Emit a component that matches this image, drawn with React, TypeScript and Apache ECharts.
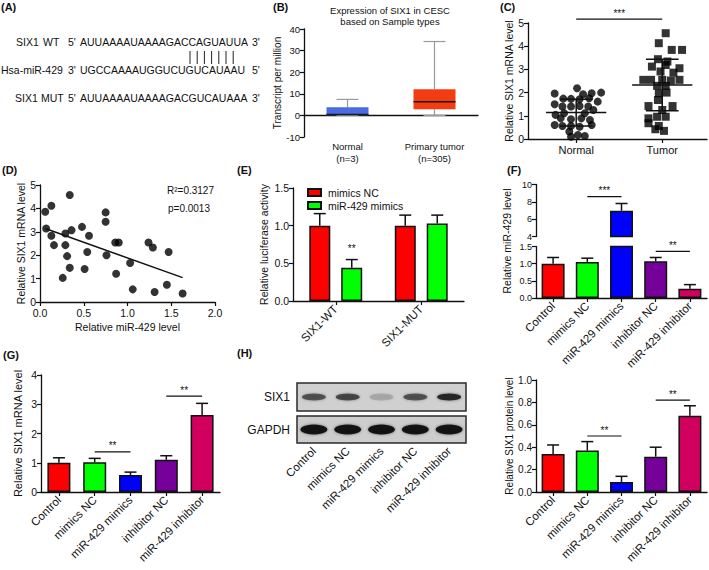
import React, { useEffect, useRef } from 'react';
import * as echarts from 'echarts';

const FONT = 'Arial, "Liberation Sans", Helvetica, sans-serif';
const INK = '#111';

// ---------- Panel A (sequences) ----------
const seqWT = 'AUUAAAAUAAAAGACCAGUAUUA';
const seqMiR = 'UGCCAAAAUGGUCUGUCAUAAU';
const seqMUT = 'AUUAAAAUAAAAGACGUCAUAAA';
const pairCount = 7;

// ---------- Panel B (box plot) ----------
const bCategories = ['Normal\n(n=3)', 'Primary tumor\n(n=305)'];
// min, q1, median, q3, max
const bNormal = [0, 0.1, 0.4, 3.8, 7.4];
const bTumor = [0, 2.8, 6.3, 12.1, 34.2];
const bColors = ['#4a6be2', '#f43c12'];

// ---------- Panel C (dot plot) ----------
const cCategories = ['Normal', 'Tumor'];
// [jitter, value]
const cNormal = [
  [-0.25, 1.96], [-0.15, 1.74], [0.01, 2.19], [0.08, 1.93], [0.18, 1.97], [0.29, 2.0],
  [-0.06, 1.73], [0.04, 1.71], [0.15, 1.76], [0.25, 1.61], [-0.25, 1.5], [-0.16, 1.4],
  [-0.06, 1.4], [0.04, 1.42], [0.14, 1.4], [-0.24, 1.04], [-0.14, 1.11], [0.1, 1.11],
  [0.2, 1.25], [-0.18, 0.89], [-0.06, 0.85], [0.06, 0.89], [0.16, 0.82], [-0.25, 0.6],
  [-0.16, 0.56], [-0.06, 0.56], [0.04, 0.53], [0.18, 0.6], [-0.08, 0.32], [0.02, 0.17],
  [-0.06, 0.1], [0.1, 0.13],
];
const cTumor = [
  [0.04, 4.56], [-0.04, 4.13], [0.11, 3.84], [0.23, 3.84], [-0.05, 3.44], [0.06, 3.34],
  [-0.12, 3.12], [0.04, 3.19], [0.2, 3.05], [-0.02, 2.91], [0.13, 2.86], [-0.22, 2.55],
  [-0.13, 2.55], [0.0, 2.55], [0.1, 2.52], [0.2, 2.55], [-0.06, 2.29], [0.04, 2.29],
  [-0.04, 1.97], [0.05, 2.0], [-0.05, 1.68], [-0.16, 1.42], [0.12, 1.42], [0.0, 1.25],
  [-0.06, 0.96], [-0.16, 0.89], [0.04, 0.96], [-0.04, 0.56], [-0.08, 0.42], [0.02, 0.35],
  [-0.16, 0.68],
];
// [category position, mean, sd]
const cMeanSd = [[1, 1.14, 0.575], [2, 2.33, 1.11]];

// ---------- Panel D (correlation) ----------
const dPoints = [
  [0.06, 3.86], [0.13, 4.11], [0.34, 4.57], [0.07, 3.14], [0.13, 2.83], [0.16, 2.43],
  [0.29, 2.93], [0.36, 3.07], [0.29, 2.43], [0.31, 1.96], [0.34, 1.46], [0.26, 1.03],
  [0.48, 3.21], [0.56, 2.83], [0.54, 2.14], [0.51, 1.41], [0.75, 3.83], [0.75, 3.43],
  [0.76, 2.0], [0.86, 2.54], [0.9, 2.54], [0.87, 1.21], [1.03, 1.67], [1.06, 0.54],
  [1.24, 2.54], [1.29, 2.33], [1.31, 0.43], [1.47, 2.14], [1.45, 0.74], [1.63, 0.36],
];
const dFit = [[0.06, 3.14], [1.63, 1.04]];
const dStats = ['R²=0.3127', 'p=0.0013'];

// ---------- Panel E (luciferase) ----------
const eCategories = ['SIX1-WT', 'SIX1-MUT'];
const eNC = [1.0, 1.0];
const eNCErr = [0.16, 0.14];
const eMim = [0.44, 1.03];
const eMimErr = [0.11, 0.11];

// ---------- Panels F, G, H (five groups) ----------
const groups = ['Control', 'mimics NC', 'miR-429 mimics', 'inhibitor NC', 'miR-429 inhibitor'];
const groupColors = ['#ff0000', '#00ff00', '#0000ff', '#76009a', '#d1005f'];
const fVals = [1.0, 1.05, 6.96, 1.07, 0.27];
const fErr = [0.18, 0.11, 0.85, 0.11, 0.12];
const gVals = [1.0, 1.02, 0.58, 1.1, 2.63];
const gErr = [0.17, 0.13, 0.1, 0.14, 0.4];
const hVals = [0.34, 0.37, 0.09, 0.315, 0.68];
const hErr = [0.08, 0.08, 0.05, 0.085, 0.09];
const blotSix1 = [0.62, 0.68, 0.18, 0.62, 0.92];
const blotGapdh = [0.95, 0.95, 0.95, 0.95, 0.95];

// significance annotations: [x1, x2, y, text]
const cSig = [[1, 2, 5.17, '***']];
const eSig = [[0, 0, 0.62, '**']];
const fSigUpper = [[1, 2, 8.6, '***']];
const fSigLower = [[3, 4, 1.36, '**']];
const gSig = [[1, 2, 1.37, '**'], [3, 4, 3.28, '**']];
const hSig = [[1, 2, 0.5, '**'], [3, 4, 0.82, '**']];

const axisLine = { show: true, lineStyle: { color: INK, width: 1.3 } };
const axisTick = { show: true, length: 4, lineStyle: { color: INK, width: 1.2 } };
const lbl = { color: INK, fontFamily: FONT, fontSize: 10.5, margin: 4 };
const nameStyle = { color: INK, fontFamily: FONT, fontSize: 10.5 };
const noSplit = { show: false };

function catX(grid: number, data: string[], extra: any = {}) {
  return {
    gridIndex: grid, type: 'category', data,
    axisLine, axisTick: { ...axisTick, alignWithLabel: true },
    axisLabel: { ...lbl, fontSize: 11.5, rotate: 45, interval: 0, margin: 6 },
    ...extra,
  };
}

function errSeries(idx: number, vals: number[], errs: number[], offset = 0, cap = 6) {
  return {
    type: 'custom', xAxisIndex: idx, yAxisIndex: idx, clip: true, z: 5, silent: true,
    data: vals.map((v, i) => [i, v, errs[i]]),
    renderItem: (params: any, api: any) => {
      const x = api.value(0), v = api.value(1), e = api.value(2);
      const p0 = api.coord([x, v]);
      const p1 = api.coord([x, v + e]);
      const cx = p0[0] + offset;
      const st = { stroke: INK, lineWidth: 1.5 };
      return {
        type: 'group', children: [
          { type: 'line', shape: { x1: cx, y1: p0[1], x2: cx, y2: p1[1] }, style: st },
          { type: 'line', shape: { x1: cx - cap, y1: p1[1], x2: cx + cap, y2: p1[1] }, style: st },
        ],
      };
    },
  };
}

function sigSeries(idx: number, items: any[], offset = 0) {
  return {
    type: 'custom', xAxisIndex: idx, yAxisIndex: idx, z: 6, silent: true,
    data: items.map((s) => [s[0], s[1], s[2]]),
    renderItem: (params: any, api: any) => {
      const s = items[params.dataIndex];
      const a = api.coord([api.value(0), api.value(2)]);
      const b = api.coord([api.value(1), api.value(2)]);
      const children: any[] = [];
      if (s[0] !== s[1]) {
        children.push({ type: 'line', shape: { x1: a[0], y1: a[1], x2: b[0], y2: b[1] }, style: { stroke: INK, lineWidth: 1.2 } });
      }
      children.push({
        type: 'text', x: (a[0] + b[0]) / 2 + offset, y: a[1] - 1,
        style: { text: s[3], fill: INK, fontFamily: FONT, fontSize: 10, textAlign: 'center', textVerticalAlign: 'bottom' },
      });
      return { type: 'group', children };
    },
  };
}

function groupBars(idx: number, vals: number[]) {
  return {
    type: 'bar', xAxisIndex: idx, yAxisIndex: idx, barWidth: 23, clip: true,
    data: vals.map((v, i) => ({ value: v, itemStyle: { color: groupColors[i] } })),
    itemStyle: { borderColor: INK, borderWidth: 1.5 },
  };
}

export default function App() {
  const ref = useRef<HTMLDivElement>(null);
  useEffect(() => {
    if (!ref.current) return;
    const chart = echarts.init(ref.current, undefined, { renderer: 'svg' });

    const t = (text: string, x: number, y: number, extra: any = {}) => ({
      type: 'text', x, y, silent: true,
      style: { text, fill: INK, fontFamily: FONT, fontSize: 10.5, textVerticalAlign: 'middle', ...extra },
    });

    const panelLabels = [
      ['(A)', 1, 7], ['(B)', 273, 7], ['(C)', 500, 7], ['(D)', 2, 170],
      ['(E)', 237, 170], ['(F)', 507, 170], ['(G)', 3, 355], ['(H)', 237, 353],
    ];

    const pairLines = Array.from({ length: pairCount }, (_, i) => ({
      type: 'line', silent: true,
      shape: { x1: 190 + 7.2 * i, y1: 51, x2: 190 + 7.2 * i, y2: 64 },
      style: { stroke: '#222', lineWidth: 1 },
    }));

    const graphic: any[] = [
      ...panelLabels.map(([s, x, y]) => t(s as string, x as number, y as number, { fontWeight: 'bold', fontSize: 11 })),
      t('SIX1', 16, 42), t('WT', 43, 42), t("5'", 68, 42), t(seqWT, 80, 42), t("3'", 252, 42),
      t('Hsa-miR-429', 1, 70), t("3'", 68, 70), t(seqMiR, 80, 70), t("5'", 252, 70),
      t('SIX1', 15, 98), t('MUT', 41, 98), t("5'", 68, 98), t(seqMUT, 80, 98), t("3'", 252, 98),
      ...pairLines,
      t('Expression of SIX1 in CESC', 390, 10, { textAlign: 'center', fontSize: 9.5 }),
      t('based on Sample types', 390, 21, { textAlign: 'center', fontSize: 9.5 }),
      t(dStats[0], 167, 190, { fontSize: 10 }),
      t(dStats[1], 168, 208, { fontSize: 10 }),
      {
        type: 'text', x: 507, y: 241, rotation: Math.PI / 2, silent: true,
        style: { text: 'Relative miR-429 level', fill: INK, fontFamily: FONT, fontSize: 10.5, textAlign: 'center', textVerticalAlign: 'middle' },
      },
    ];

    const fLbl = { ...lbl, fontSize: 9, lineHeight: 8 };

    const option: any = {
      animation: false,
      backgroundColor: '#fff',
      textStyle: { fontFamily: FONT },
      grid: [
        { left: 304, top: 29, width: 174, height: 108 },
        { left: 528, top: 23, width: 179, height: 116 },
        { left: 40, top: 185, width: 175, height: 117 },
        { left: 293, top: 188, width: 171, height: 113 },
        { left: 536, top: 184.5, width: 171, height: 52 },
        { left: 536, top: 246.5, width: 171, height: 51.5 },
        { left: 41, top: 375, width: 179, height: 117 },
        { left: 297, top: 383, width: 169, height: 28, show: true, backgroundColor: '#d0d0d0', borderColor: '#2a2a2a', borderWidth: 1.5 },
        { left: 297, top: 416, width: 169, height: 27, show: true, backgroundColor: '#cdcdcd', borderColor: '#2a2a2a', borderWidth: 1.5 },
        { left: 536, top: 380, width: 171, height: 112 },
      ],
      legend: {
        left: 302, top: 182, orient: 'vertical', itemWidth: 13, itemHeight: 7, itemGap: 2, icon: 'rect',
        data: ['mimics NC', 'miR-429 mimics'],
        textStyle: { color: INK, fontFamily: FONT, fontSize: 10.5, padding: [0, 0, 0, 2] },
      },
      xAxis: [
        {
          gridIndex: 0, type: 'category', data: bCategories, axisLine, axisTick: { show: false },
          axisLabel: { ...lbl, fontSize: 9.5, lineHeight: 11.5, margin: 4 },
        },
        {
          gridIndex: 1, type: 'value', min: 0.44, max: 2.52, splitLine: noSplit, axisLine,
          axisTick: { ...axisTick, customValues: [1, 2] },
          axisLabel: { ...lbl, fontSize: 11, margin: 5, customValues: [1, 2], formatter: (v: number) => cCategories[Math.round(v) - 1] },
        },
        {
          gridIndex: 2, type: 'value', min: 0, max: 2, interval: 0.5, splitLine: noSplit, axisLine, axisTick,
          axisLabel: { ...lbl, margin: 6, lineHeight: 10, formatter: (v: number) => v.toFixed(1) },
          name: 'Relative miR-429 level', nameLocation: 'middle', nameGap: 19, nameTextStyle: nameStyle,
        },
        catX(3, eCategories),
        { gridIndex: 4, type: 'category', data: groups, show: false },
        catX(5, groups),
        catX(6, groups),
        { gridIndex: 7, type: 'category', data: groups, show: false },
        catX(8, groups, { axisLine: { show: false }, axisTick: { show: false } }),
        catX(9, groups),
      ],
      yAxis: [
        {
          gridIndex: 0, type: 'value', min: -10, max: 40, interval: 10, axisLine, axisTick, splitLine: noSplit,
          axisLabel: { ...lbl, fontSize: 9.5 },
          name: 'Transcript per million', nameLocation: 'middle', nameGap: 20, nameTextStyle: { ...nameStyle, fontSize: 10 },
        },
        {
          gridIndex: 1, type: 'value', min: 0, max: 5, interval: 1, axisLine, axisTick, splitLine: noSplit, axisLabel: lbl,
          name: 'Relative SIX1 mRNA level', nameLocation: 'middle', nameGap: 14, nameTextStyle: nameStyle,
        },
        {
          gridIndex: 2, type: 'value', min: 0, max: 5, interval: 1, axisLine, axisTick, splitLine: noSplit,
          axisLabel: { ...lbl, lineHeight: 9 },
          name: 'Relative SIX1 mRNA level', nameLocation: 'middle', nameGap: 11, nameTextStyle: nameStyle,
        },
        {
          gridIndex: 3, type: 'value', min: 0, max: 1.5, interval: 0.5, axisLine, axisTick, splitLine: noSplit,
          axisLabel: { ...lbl, formatter: (v: number) => v.toFixed(1) },
          name: 'Relative luciferase activity', nameLocation: 'middle', nameGap: 24, nameTextStyle: nameStyle,
        },
        {
          gridIndex: 4, type: 'value', min: 4, max: 10, interval: 2, axisLine, axisTick, splitLine: noSplit, axisLabel: fLbl,
        },
        {
          gridIndex: 5, type: 'value', min: 0, max: 1.5, interval: 0.5, axisLine, axisTick, splitLine: noSplit,
          axisLabel: { ...fLbl, formatter: (v: number) => v.toFixed(1) },
        },
        {
          gridIndex: 6, type: 'value', min: 0, max: 4, interval: 1, axisLine, axisTick, splitLine: noSplit, axisLabel: lbl,
          name: 'Relative SIX1 mRNA level', nameLocation: 'middle', nameGap: 18, nameTextStyle: { ...nameStyle, fontSize: 11 },
        },
        {
          gridIndex: 7, type: 'category', data: ['SIX1'], axisLine: { show: false }, axisTick: { show: false },
          axisLabel: { ...lbl, fontSize: 12, margin: 7 },
        },
        {
          gridIndex: 8, type: 'category', data: ['GAPDH'], axisLine: { show: false }, axisTick: { show: false },
          axisLabel: { ...lbl, fontSize: 12, margin: 7 },
        },
        {
          gridIndex: 9, type: 'value', min: 0, max: 1, interval: 0.2, axisLine, axisTick, splitLine: noSplit,
          axisLabel: { ...lbl, fontSize: 10, formatter: (v: number) => v.toFixed(1) },
          name: 'Relative SIX1 protein level', nameLocation: 'middle', nameGap: 22, nameTextStyle: { ...nameStyle, fontSize: 10 },
        },
      ],
      series: [
        // B box plot
        {
          type: 'custom', xAxisIndex: 0, yAxisIndex: 0, silent: true,
          data: [bNormal, bTumor].map((b, i) => [i, ...b]),
          renderItem: (params: any, api: any) => {
            const i = api.value(0);
            const mn = api.value(1), q1 = api.value(2), md = api.value(3), q3 = api.value(4), mx = api.value(5);
            const cx = api.coord([i, md])[0];
            const y = (v: number) => api.coord([i, v])[1];
            const hw = 21, cw = 11;
            const ws = { stroke: '#9a9a9a', lineWidth: 1.2 };
            return {
              type: 'group', children: [
                { type: 'line', shape: { x1: cx, y1: y(q3), x2: cx, y2: y(mx) }, style: ws },
                { type: 'line', shape: { x1: cx - cw, y1: y(mx), x2: cx + cw, y2: y(mx) }, style: ws },
                { type: 'line', shape: { x1: cx, y1: y(q1), x2: cx, y2: y(mn) }, style: ws },
                { type: 'line', shape: { x1: cx - cw, y1: y(mn), x2: cx + cw, y2: y(mn) }, style: ws },
                { type: 'rect', shape: { x: cx - hw, y: y(q3), width: 2 * hw, height: y(q1) - y(q3) }, style: { fill: bColors[params.dataIndex] } },
                { type: 'line', shape: { x1: cx - hw, y1: y(md), x2: cx + hw, y2: y(md) }, style: { stroke: '#1a1a1a', lineWidth: 1.5 } },
              ],
            };
          },
        },
        // C
        {
          type: 'scatter', xAxisIndex: 1, yAxisIndex: 1, symbol: 'circle', symbolSize: 8,
          itemStyle: { color: '#000' }, data: cNormal.map(([dx, v]) => [1 + dx, v]),
        },
        {
          type: 'scatter', xAxisIndex: 1, yAxisIndex: 1, symbol: 'rect', symbolSize: 8,
          itemStyle: { color: '#000' }, data: cTumor.map(([dx, v]) => [2 + dx, v]),
        },
        {
          type: 'custom', xAxisIndex: 1, yAxisIndex: 1, silent: true, z: 5, data: cMeanSd,
          renderItem: (params: any, api: any) => {
            const x = api.value(0), m = api.value(1), s = api.value(2);
            const pm = api.coord([x, m]);
            const pl = api.coord([x - 0.35, m]);
            const pr = api.coord([x + 0.35, m]);
            const pt = api.coord([x, m + s]);
            const pb = api.coord([x, m - s]);
            const cw = 0.19 * (pr[0] - pl[0]) / 0.7;
            const st = { stroke: INK, lineWidth: 1.5 };
            return {
              type: 'group', children: [
                { type: 'line', shape: { x1: pl[0], y1: pm[1], x2: pr[0], y2: pm[1] }, style: st },
                { type: 'line', shape: { x1: pm[0], y1: pt[1], x2: pm[0], y2: pb[1] }, style: st },
                { type: 'line', shape: { x1: pm[0] - cw, y1: pt[1], x2: pm[0] + cw, y2: pt[1] }, style: st },
                { type: 'line', shape: { x1: pm[0] - cw, y1: pb[1], x2: pm[0] + cw, y2: pb[1] }, style: st },
              ],
            };
          },
        },
        sigSeries(1, cSig),
        // D
        {
          type: 'scatter', xAxisIndex: 2, yAxisIndex: 2, symbol: 'circle', symbolSize: 8,
          itemStyle: { color: '#000' }, data: dPoints,
        },
        {
          type: 'line', xAxisIndex: 2, yAxisIndex: 2, symbol: 'none', data: dFit,
          lineStyle: { color: INK, width: 1.5 },
        },
        // E
        {
          name: 'mimics NC', type: 'bar', xAxisIndex: 3, yAxisIndex: 3, barWidth: 21, barGap: '52%', data: eNC,
          itemStyle: { color: '#ff0000', borderColor: INK, borderWidth: 1.5 },
        },
        {
          name: 'miR-429 mimics', type: 'bar', xAxisIndex: 3, yAxisIndex: 3, barWidth: 21, barGap: '52%', data: eMim,
          itemStyle: { color: '#00ff00', borderColor: INK, borderWidth: 1.5 },
        },
        errSeries(3, eNC, eNCErr, -16, 6),
        errSeries(3, eMim, eMimErr, 16, 6),
        sigSeries(3, eSig, 16),
        // F upper & lower
        groupBars(4, fVals),
        errSeries(4, fVals, fErr),
        sigSeries(4, fSigUpper),
        groupBars(5, fVals),
        errSeries(5, fVals, fErr),
        sigSeries(5, fSigLower),
        // G
        groupBars(6, gVals),
        errSeries(6, gVals, gErr),
        sigSeries(6, gSig),
        // H blot
        {
          type: 'scatter', xAxisIndex: 7, yAxisIndex: 7, symbol: 'circle', symbolSize: [24, 7], silent: true,
          data: blotSix1.map((v, i) => ({ value: [i, 0], itemStyle: { opacity: v } })),
          itemStyle: { color: '#1c1c1c', shadowBlur: 3, shadowColor: 'rgba(0,0,0,0.5)' },
        },
        {
          type: 'scatter', xAxisIndex: 8, yAxisIndex: 8, symbol: 'circle', symbolSize: [27, 10], silent: true,
          data: blotGapdh.map((v, i) => ({ value: [i, 0], itemStyle: { opacity: v } })),
          itemStyle: { color: '#111', shadowBlur: 3, shadowColor: 'rgba(0,0,0,0.5)' },
        },
        // H bars
        groupBars(9, hVals),
        errSeries(9, hVals, hErr),
        sigSeries(9, hSig),
      ],
      graphic,
    };

    chart.setOption(option);
    return () => chart.dispose();
  }, []);

  return (
    <div
      ref={ref}
      style={{ position: 'fixed', left: 0, top: 0, width: 709, height: 570, background: '#fff' }}
    />
  );
}
